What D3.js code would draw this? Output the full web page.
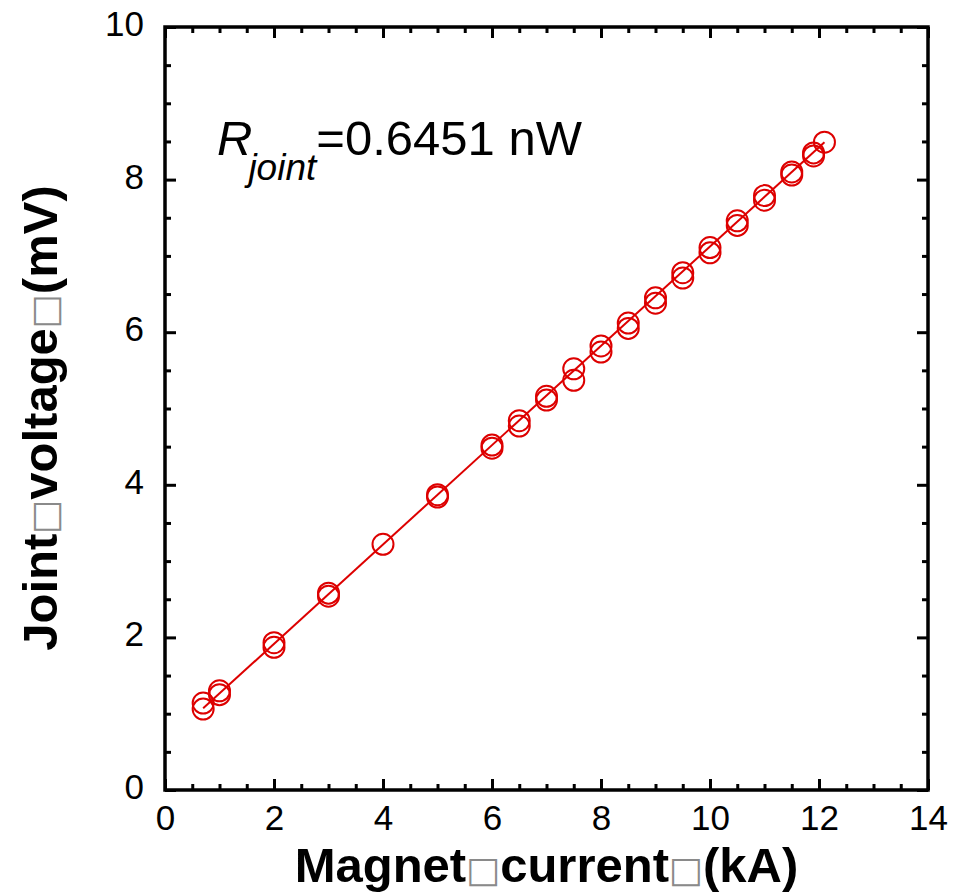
<!DOCTYPE html>
<html lang="en">
<head>
  <meta charset="UTF-8">
  <title>Joint voltage vs magnet current</title>
  <script src="https://d3js.org/d3.v7.min.js"></script>
  <style>
    body {
      margin: 0;
      background: #fff;
    }

    svg {
      display: block;
      font-family: "Liberation Sans", Arial, sans-serif;
    }

    .tofu {
      font-family: "DejaVu Sans", sans-serif;
      font-weight: normal;
      fill: #8a8a8a;
    }
  </style>
</head>
<body>
  <svg width="961" height="894"></svg>

  <script>
    // first measurement run
    const currentA = [0.7, 1, 2, 3, 4, 5, 6, 6.5, 7, 7.5, 8, 8.5, 9, 9.5, 10, 10.5, 11, 11.5, 11.9, 12.1];
    const voltageA = [1.14, 1.30, 1.93, 2.58, 3.22, 3.87, 4.52, 4.84, 5.16, 5.52, 5.82, 6.12, 6.45, 6.78, 7.11, 7.46, 7.79, 8.10, 8.35, 8.49];

    // second measurement run
    const currentB = [0.7, 1, 2, 3, 5, 6, 6.5, 7, 7.5, 8, 8.5, 9, 9.5, 10, 10.5, 11, 11.5, 11.9];
    const voltageB = [1.06, 1.25, 1.87, 2.54, 3.84, 4.48, 4.77, 5.11, 5.37, 5.74, 6.05, 6.38, 6.71, 7.04, 7.40, 7.73, 8.06, 8.31];

    // linear fit line end points
    const fitCurrent = [0.7, 12.1];
    const fitVoltage = [1.07, 8.49];

    const xTicks = [0, 2, 4, 6, 8, 10, 12, 14];
    const yTicks = [0, 2, 4, 6, 8, 10];

    const margin = { top: 27, right: 33, bottom: 104, left: 165 };
    const width = 961;
    const height = 894;
    const innerW = width - margin.left - margin.right;
    const innerH = height - margin.top - margin.bottom;
    const red = "#dd0000";

    const svg = d3.select("svg");
    const g = svg.append("g")
      .attr("transform", `translate(${margin.left},${margin.top})`);

    const x = d3.scaleLinear().domain([0, 14]).range([0, innerW]);
    const y = d3.scaleLinear().domain([0, 10]).range([innerH, 0]);

    const xMinor = d3.range(0, 14.01, 0.5).filter(v => v % 2 !== 0);
    const yMinor = d3.range(0, 10.01, 0.5).filter(v => v % 2 !== 0);

    function styleAxis(sel) {
      sel.select(".domain").remove();
      sel.selectAll("line").attr("stroke", "#000").attr("stroke-width", 3);
      sel.selectAll("text")
        .attr("font-size", 35)
        .attr("font-family", "Liberation Sans, Arial, sans-serif")
        .attr("fill", "#000");
    }

    // major ticks, all four sides, pointing inward
    g.append("g").attr("transform", `translate(0,${innerH})`)
      .call(d3.axisBottom(x).tickValues(xTicks).tickSize(-11).tickPadding(15).tickFormat(d3.format("d")))
      .call(styleAxis);
    g.append("g")
      .call(d3.axisTop(x).tickValues(xTicks).tickSize(-11).tickFormat(""))
      .call(styleAxis);
    g.append("g")
      .call(d3.axisLeft(y).tickValues(yTicks).tickSize(-11).tickPadding(21).tickFormat(d3.format("d")))
      .call(styleAxis)
      .selectAll("text").attr("dy", "0.24em");
    g.append("g").attr("transform", `translate(${innerW},0)`)
      .call(d3.axisRight(y).tickValues(yTicks).tickSize(-11).tickFormat(""))
      .call(styleAxis);

    // minor ticks
    g.append("g").attr("transform", `translate(0,${innerH})`)
      .call(d3.axisBottom(x).tickValues(xMinor).tickSize(-6).tickFormat(""))
      .call(styleAxis);
    g.append("g")
      .call(d3.axisTop(x).tickValues(xMinor).tickSize(-6).tickFormat(""))
      .call(styleAxis);
    g.append("g")
      .call(d3.axisLeft(y).tickValues(yMinor).tickSize(-6).tickFormat(""))
      .call(styleAxis);
    g.append("g").attr("transform", `translate(${innerW},0)`)
      .call(d3.axisRight(y).tickValues(yMinor).tickSize(-6).tickFormat(""))
      .call(styleAxis);

    // frame
    g.append("rect")
      .attr("width", innerW)
      .attr("height", innerH)
      .attr("fill", "none")
      .attr("stroke", "#000")
      .attr("stroke-width", 3.5);

    // fit line
    const line = d3.line()
      .x(d => x(d[0]))
      .y(d => y(d[1]));
    g.append("path")
      .datum(d3.zip(fitCurrent, fitVoltage))
      .attr("d", line)
      .attr("fill", "none")
      .attr("stroke", red)
      .attr("stroke-width", 2);

    // measured points
    const points = d3.zip(currentA, voltageA).concat(d3.zip(currentB, voltageB));
    g.selectAll("circle.pt")
      .data(points)
      .join("circle")
      .attr("class", "pt")
      .attr("cx", d => x(d[0]))
      .attr("cy", d => y(d[1]))
      .attr("r", 10.5)
      .attr("fill", "none")
      .attr("stroke", red)
      .attr("stroke-width", 2);

    // annotation
    const note = svg.append("text")
      .attr("x", 217)
      .attr("y", 155)
      .attr("fill", "#000");
    note.append("tspan")
      .attr("font-size", 49)
      .attr("font-style", "italic")
      .text("R");
    note.append("tspan")
      .attr("font-size", 37)
      .attr("font-style", "italic")
      .attr("dx", -4)
      .attr("dy", 25)
      .text("joint");
    note.append("tspan")
      .attr("font-size", 49)
      .attr("dy", -25)
      .text("=0.6451 nW");

    // axis titles, with the missing-glyph boxes of the original
    function title(sel, parts) {
      parts.forEach(p => {
        const t = sel.append("tspan").text(p);
        if (p === "□") t.attr("class", "tofu").attr("font-size", 36);
      });
    }

    const xTitle = svg.append("text")
      .attr("x", margin.left + innerW / 2)
      .attr("y", 882)
      .attr("text-anchor", "middle")
      .attr("font-size", 49)
      .attr("font-weight", "bold");
    title(xTitle, ["Magnet", "□", "current", "□", "(kA)"]);

    const yTitle = svg.append("text")
      .attr("transform", `translate(57,${418}) rotate(-90)`)
      .attr("text-anchor", "middle")
      .attr("font-size", 49)
      .attr("font-weight", "bold");
    title(yTitle, ["Joint", "□", "voltage", "□", "(mV)"]);
  </script>
</body>
</html>
